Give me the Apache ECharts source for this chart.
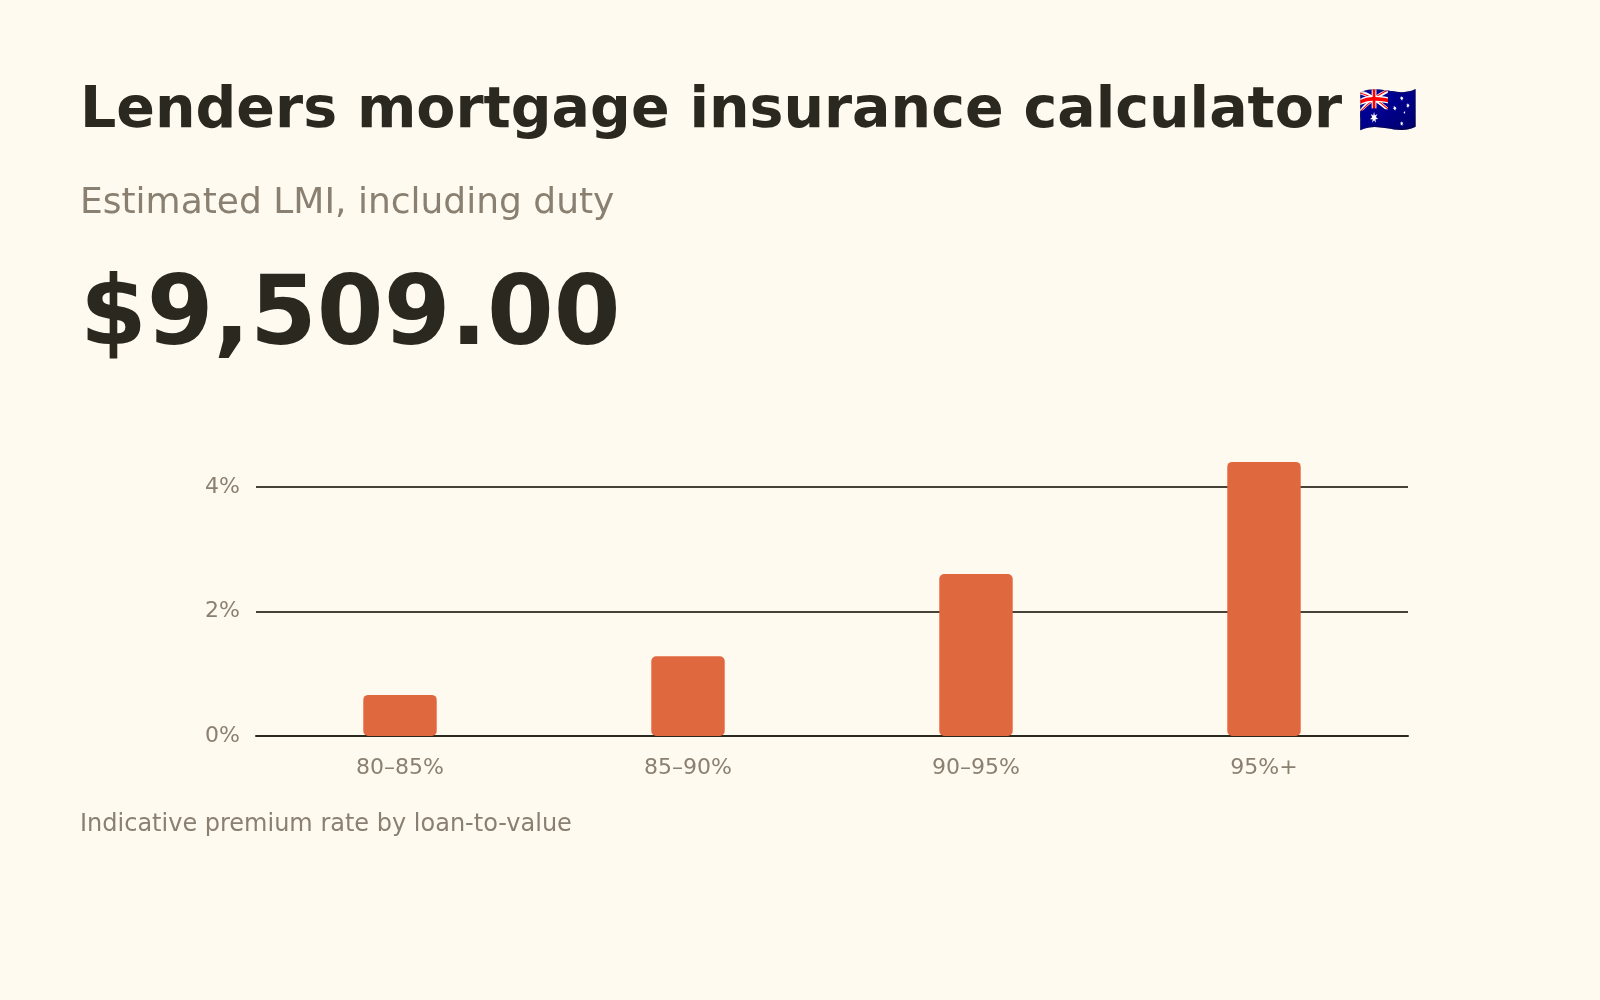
<!DOCTYPE html>
<html>
<head>
<meta charset="utf-8">
<title>Lenders mortgage insurance calculator</title>
<script src="https://cdn.jsdelivr.net/npm/echarts@6/dist/echarts.min.js"></script>
<style>
    html, body { margin: 0; padding: 0; background: #fffaef; }
    #container { width: 1600px; height: 1000px; }
</style>
</head>
<body>
<div id="container"></div>
<script>
// LTV bands and indicative premium rate (%)
var bands = ['80–85%', '85–90%', '90–95%', '95%+'];
var rates = [0.66, 1.28, 2.6, 4.4];
var yTicks = [0, 2, 4];

var titleText = 'Lenders mortgage insurance calculator';
var flagText = '🇦🇺';
var subText = 'Estimated LMI, including duty';
var amountText = '$9,509.00';
var noteText = 'Indicative premium rate by loan-to-value';

createChart();

function createChart() {
    var dom = document.getElementById('container');
    var myChart = echarts.init(dom, null, {renderer: 'canvas'});
    var font = 'DejaVu Sans, sans-serif';
    var option = {
        backgroundColor: '#fffaef',
        animation: false,
        graphic: [
            {
                type: 'text', left: 80, top: 84,
                style: {text: titleText, font: 'bold 57px ' + font, fill: '#2b2820'}
            },
            {
                type: 'text', left: 1358, top: 90,
                style: {text: flagText, font: '48px ' + font, fill: '#2b2820'}
            },
            {
                type: 'text', left: 80, top: 186,
                style: {text: subText, font: '36px ' + font, fill: '#8a8072'}
            },
            {
                type: 'text', left: 80, top: 271,
                style: {text: amountText, font: 'bold 96px ' + font, fill: '#2b2820'}
            },
            {
                type: 'text', left: 80, top: 813,
                style: {text: noteText, font: '24px ' + font, fill: '#8a8072'}
            }
        ],
        grid: {
            left: 256,
            right: 192,
            top: 424.5,
            bottom: 264,
            containLabel: false
        },
        xAxis: {
            type: 'category',
            data: bands,
            axisTick: {show: false},
            axisLine: {show: true, lineStyle: {color: '#2b2820', width: 2}},
            axisLabel: {color: '#8a8072', fontSize: 22, fontFamily: font, margin: 21}
        },
        yAxis: {
            type: 'value',
            min: yTicks[0],
            max: 5,
            interval: yTicks[1] - yTicks[0],
            axisLine: {show: false},
            axisTick: {show: false},
            axisLabel: {
                color: '#8a8072', fontSize: 22, fontFamily: font, margin: 16,
                showMaxLabel: false,
                formatter: function (v) { return yTicks.indexOf(v) >= 0 ? v + '%' : ''; }
            },
            splitLine: {show: true, showMaxLine: false, lineStyle: {color: '#46423a', width: 2}}
        },
        series: [
            {
                name: 'Premium rate',
                type: 'bar',
                data: rates,
                barWidth: '25.5%',
                itemStyle: {color: '#e0683e', borderRadius: 5}
            }
        ]
    };
    myChart.setOption(option, true);
}
</script>
</body>
</html>
